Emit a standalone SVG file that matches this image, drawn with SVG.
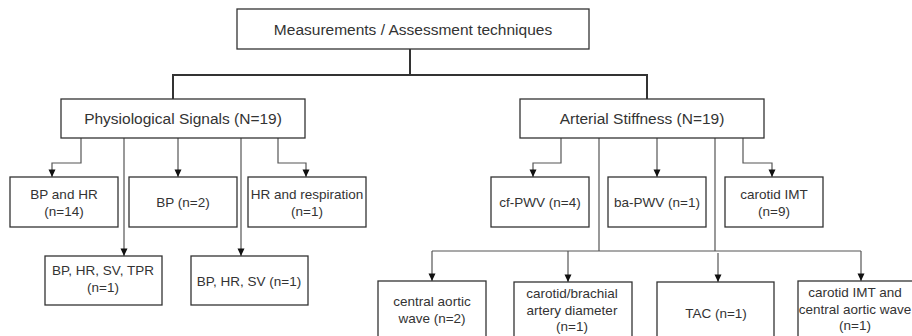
<svg xmlns="http://www.w3.org/2000/svg" width="912" height="336" viewBox="0 0 912 336">
<defs>
<style>
.box{fill:#fff;stroke:#333;stroke-width:1.3}
.t{font-family:"Liberation Sans",Arial,sans-serif;font-size:13.5px;fill:#333;text-anchor:middle}
.h{font-size:15.5px}
.main{fill:none;stroke:#333;stroke-width:2}
.c{fill:none;stroke:#555;stroke-width:1.2}
.a{marker-end:url(#arr)}
</style>
<marker id="arr" markerUnits="userSpaceOnUse" markerWidth="10" markerHeight="10" viewBox="0 0 10 10" refX="9" refY="5" orient="auto">
<path d="M1.5 1.5 L9 5 L1.5 8.5 Z" fill="#111"/>
</marker>
</defs>
<rect width="912" height="336" fill="#fff"/>
<g id="connectors">
<path class="main" d="M410 49 V75 M173 99 V75 H647 V99"/>
<path class="c a" d="M81 138 V163 H52 V177"/>
<path class="c a" d="M124 138 V256"/>
<path class="c a" d="M178 138 V177"/>
<path class="c a" d="M241 138 V256"/>
<path class="c a" d="M278 138 V163 H306 V177"/>
<path class="c a" d="M561 138 V163 H533 V177"/>
<path class="c" d="M599 138 V251 M715 138 V251 M432 251 H861"/>
<path class="c a" d="M657 138 V177"/>
<path class="c a" d="M743 138 V163 H772 V177"/>
<path class="c a" d="M432 251 V281"/>
<path class="c a" d="M568 251 V282"/>
<path class="c a" d="M718 253 V282"/>
<path class="c a" d="M861 251 V281"/>
</g>
<g id="root"><rect class="box" x="237" y="9" width="352" height="40"/><text class="t h" x="413" y="35">Measurements / Assessment techniques</text></g>
<g id="phys"><rect class="box" x="61" y="99" width="244" height="39"/><text class="t h" x="183" y="124">Physiological Signals (N=19)</text></g>
<g id="art"><rect class="box" x="520" y="99" width="244" height="39"/><text class="t h" x="642" y="124">Arterial Stiffness (N=19)</text></g>
<g id="bphr"><rect class="box" x="10" y="177" width="108" height="50"/><text class="t" x="64" y="199">BP and HR</text><text class="t" x="64" y="216">(n=14)</text></g>
<g id="bp"><rect class="box" x="129" y="177" width="108" height="50"/><text class="t" x="183" y="207">BP (n=2)</text></g>
<g id="hrresp"><rect class="box" x="248" y="177" width="118" height="50"/><text class="t" x="307" y="199">HR and respiration</text><text class="t" x="307" y="216">(n=1)</text></g>
<g id="bphrsvtpr"><rect class="box" x="45" y="256" width="117" height="49"/><text class="t" x="103" y="275">BP, HR, SV, TPR</text><text class="t" x="103" y="292">(n=1)</text></g>
<g id="bphrsv"><rect class="box" x="191" y="256" width="117" height="49"/><text class="t" x="249" y="286">BP, HR, SV (n=1)</text></g>
<g id="cfpwv"><rect class="box" x="491" y="177" width="98" height="50"/><text class="t" x="540" y="207">cf-PWV (n=4)</text></g>
<g id="bapwv"><rect class="box" x="608" y="177" width="98" height="50"/><text class="t" x="657" y="207">ba-PWV (n=1)</text></g>
<g id="cimt"><rect class="box" x="725" y="177" width="98" height="50"/><text class="t" x="774" y="199">carotid IMT</text><text class="t" x="774" y="216">(n=9)</text></g>
<g id="caw"><rect class="box" x="378" y="281" width="108" height="64"/><text class="t" x="432" y="306">central aortic</text><text class="t" x="432" y="323">wave (n=2)</text></g>
<g id="cbad"><rect class="box" x="514" y="282" width="118" height="64"/><text class="t" x="572" y="298">carotid/brachial</text><text class="t" x="572" y="315">artery diameter</text><text class="t" x="572" y="331">(n=1)</text></g>
<g id="tac"><rect class="box" x="657" y="282" width="117" height="64"/><text class="t" x="716" y="318">TAC (n=1)</text></g>
<g id="cimtcaw"><rect class="box" x="798" y="281" width="120" height="64"/><text class="t" x="855" y="297">carotid IMT and</text><text class="t" x="855" y="314">central aortic wave</text><text class="t" x="855" y="330">(n=1)</text></g>
</svg>
